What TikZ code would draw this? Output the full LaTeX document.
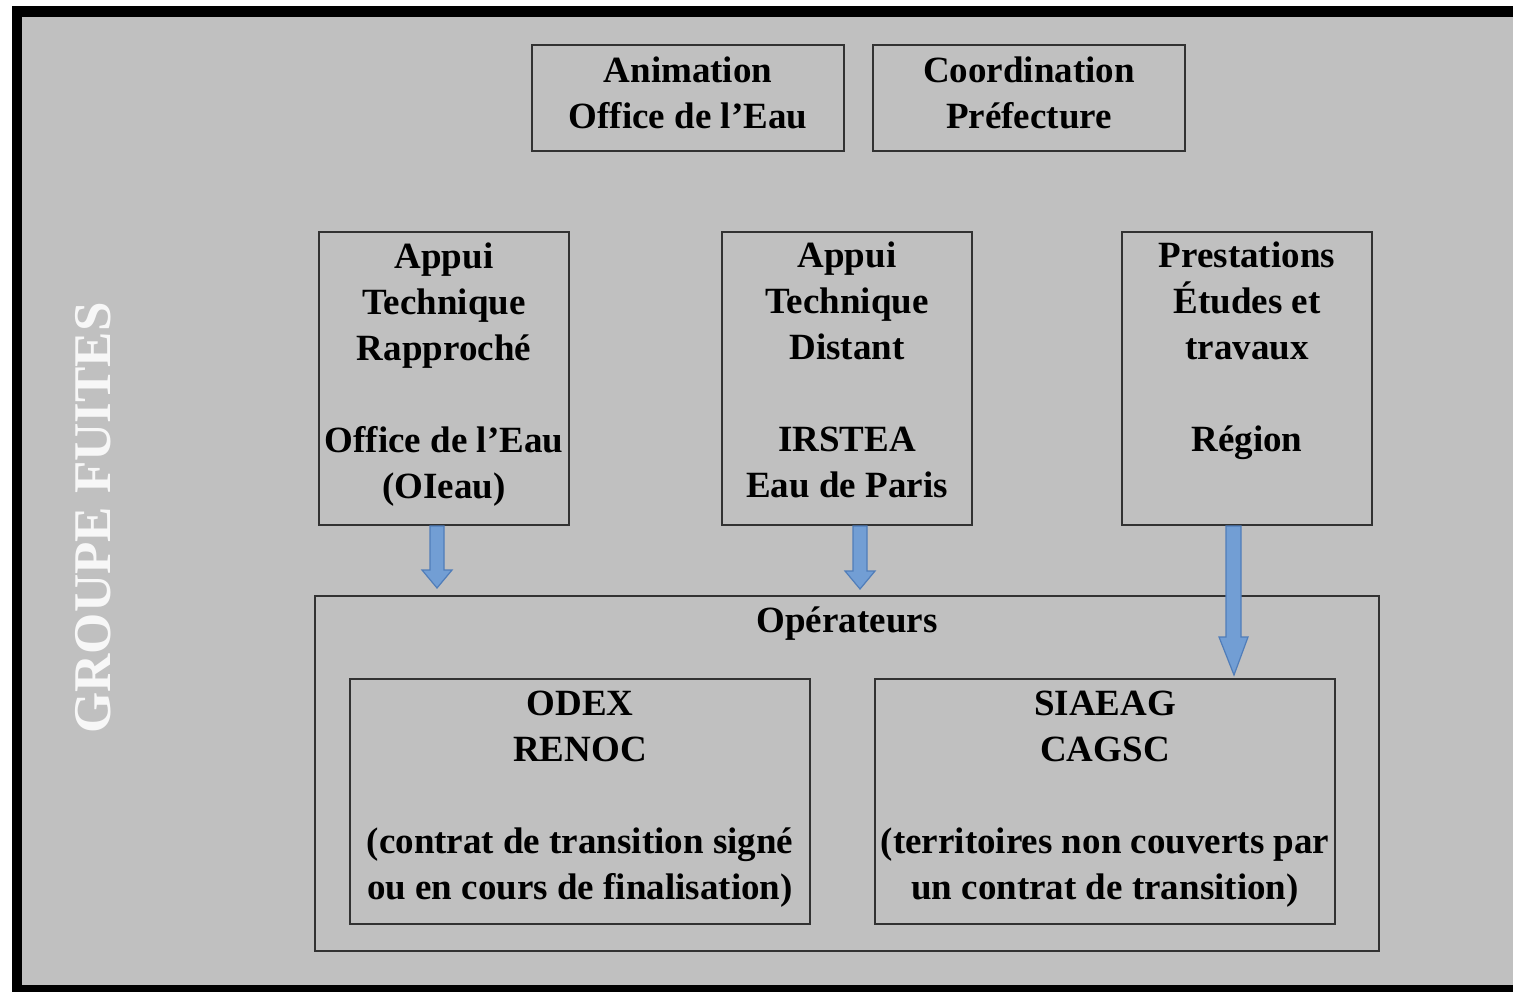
\documentclass[tikz,border=0pt]{standalone}
\usepackage{fontspec}
\setmainfont{Liberation Serif}
\usetikzlibrary{calc}
\definecolor{bggray}{RGB}{192,192,192}
\definecolor{boxline}{RGB}{50,50,50}
\definecolor{arrfill}{RGB}{114,158,212}
\definecolor{arrline}{RGB}{80,125,185}
\tikzset{
  panel/.style={draw=boxline, line width=1pt, inner sep=0pt},
  txt/.style={font=\fontsize{18.5}{23}\selectfont\bfseries, align=center, inner sep=0pt, text=black},
  bluearrow/.style={fill=arrfill, draw=arrline, line width=0.6pt, line join=miter},
}
\begin{document}
\begin{tikzpicture}[x=0.5pt,y=-0.5pt]
\useasboundingbox (0,0) rectangle (1513,992);
% frame
\fill[black] (12,6) rectangle (1513,992);
\fill[bggray] (22,17) rectangle (1513,985);
% side label
\node[rotate=90, font=\fontsize{26.5}{30}\selectfont\bfseries, text=white!94!gray, inner sep=0pt] (grp) at (93,518) {GROUPE FUITES};
% top boxes
\node[panel, minimum width=156pt, minimum height=53pt] (anim) at (688,98) {};
\node[panel, minimum width=156pt, minimum height=53pt] (coord) at (1029,98) {};
\node[txt] at (688,93) {Animation\\Office de l’Eau};
\node[txt] at (1029,93) {Coordination\\Préfecture};
% middle boxes
\node[panel, minimum width=125pt, minimum height=146.5pt] (rap) at (444,378.5) {};
\node[panel, minimum width=125pt, minimum height=146.5pt] (dist) at (847,378.5) {};
\node[panel, minimum width=125pt, minimum height=146.5pt] (prest) at (1247,378.5) {};
\node[txt] at (444,375) {Appui\\Technique\\Rapproché\\[23pt]Office de l’Eau\\(OIeau)};
\node[txt] at (847,370) {Appui\\Technique\\Distant\\[23pt]IRSTEA\\Eau de Paris};
\node[txt] at (1247,351) {Prestations\\Études et\\travaux\\[23pt]Région};
% operators
\node[panel, minimum width=532pt, minimum height=177.5pt] (oper) at (847,773.5) {};
\node[txt] at (847,624) {Opérateurs};
\node[panel, minimum width=230pt, minimum height=122.5pt] (odex) at (580,801.5) {};
\node[panel, minimum width=230pt, minimum height=122.5pt] (siaeag) at (1105,801.5) {};
\node[txt] at (580,799.5) {ODEX\\RENOC\\[23pt](contrat de transition signé\\ou en cours de finalisation)};
\node[txt] at (1105,799.5) {SIAEAG\\CAGSC\\[23pt](territoires non couverts par\\un contrat de transition)};
% arrows
\coordinate (t1) at ($(oper.north -| rap.south)+(-7,-7)$);
\draw[bluearrow] ($(rap.south)+(-14,0)$) -- ($(rap.south)+(0,0)$) -- ($(rap.south |- t1)+(0,-18)$) -- ($(rap.south |- t1)+(8,-18)$) -- ($(rap.south |- t1)+(-7,0)$) -- ($(rap.south |- t1)+(-22,-18)$) -- ($(rap.south |- t1)+(-14,-18)$) -- cycle;
\coordinate (t2) at ($(oper.north -| dist.south)+(13,-6)$);
\draw[bluearrow] ($(dist.south)+(6,0)$) -- ($(dist.south)+(20,0)$) -- ($(dist.south |- t2)+(20,-18)$) -- ($(dist.south |- t2)+(28,-18)$) -- ($(dist.south |- t2)+(13,0)$) -- ($(dist.south |- t2)+(-2,-18)$) -- ($(dist.south |- t2)+(6,-18)$) -- cycle;
\coordinate (t3) at ($(siaeag.north -| prest.south)+(-13,-3)$);
\draw[bluearrow] ($(prest.south)+(-21,0)$) -- ($(prest.south)+(-6,0)$) -- ($(prest.south |- t3)+(-6,-38)$) -- ($(prest.south |- t3)+(1,-38)$) -- ($(prest.south |- t3)+(-13,0)$) -- ($(prest.south |- t3)+(-28,-38)$) -- ($(prest.south |- t3)+(-21,-38)$) -- cycle;
\end{tikzpicture}
\end{document}
